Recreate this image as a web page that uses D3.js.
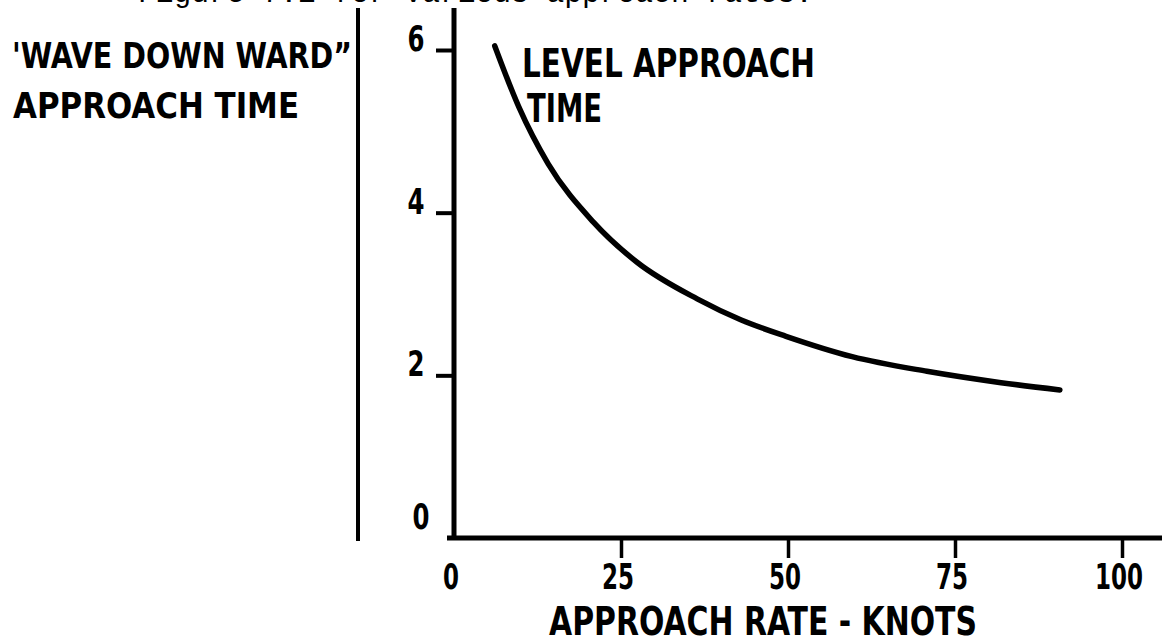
<!DOCTYPE html>
<html>
<head>
<meta charset="utf-8">
<script src="https://cdn.jsdelivr.net/npm/d3@7"></script>
<style>
  body { margin: 0; background: #fff; }
  svg { display: block; background: #fff; }
  text { font-family: "DejaVu Sans Condensed", "DejaVu Sans", sans-serif; font-stretch: condensed; font-weight: bold; fill: #000; }
</style>
</head>
<body>
<svg id="chart" width="1162" height="643"></svg>
<script>
// ---- data ----
const knots     = [6.1, 9.7, 14.1, 20.8, 27.4, 36.4, 43.0, 49.7, 59.6, 70.8, 81.9, 90.7];
const levelTime = [6.05, 5.30, 4.60, 3.89, 3.39, 2.94, 2.68, 2.48, 2.23, 2.05, 1.91, 1.82];
const xTickValues = [0, 25, 50, 75, 100];
const yTickValues = [0, 2, 4, 6];
const xTitle = "APPROACH RATE - KNOTS";
const sideLabel = ["'WAVE DOWN WARD\u201D", "APPROACH TIME"];
const curveLabel = ["LEVEL APPROACH", "TIME"];
const pageCaption = "Figure 7.1 for various approach rates.";

const svg = d3.select("#chart");
const x = d3.scaleLinear().domain([0, 100]).range([454, 1122]);
const y = d3.scaleLinear().domain([0, 6]).range([538, 50]);

// cut-off caption from the page above
svg.append("text").attr("x", 138).attr("y", 2)
  .style("font-family", "'Liberation Mono', 'DejaVu Sans Mono', monospace")
  .style("font-stretch", "normal").style("font-weight", "normal")
  .attr("font-size", 29).attr("textLength", 675).attr("lengthAdjust", "spacingAndGlyphs")
  .text(pageCaption);

// separator line next to the side label
svg.append("line").attr("x1", 358).attr("x2", 358).attr("y1", 8).attr("y2", 541)
  .attr("stroke", "#000").attr("stroke-width", 4);

// side labels
svg.append("text").attr("x", 12).attr("y", 68).attr("font-size", 35)
  .attr("textLength", 340).attr("lengthAdjust", "spacingAndGlyphs").text(sideLabel[0]);
svg.append("text").attr("x", 13).attr("y", 118).attr("font-size", 35)
  .attr("textLength", 286).attr("lengthAdjust", "spacingAndGlyphs").text(sideLabel[1]);

// y axis
const yAxis = d3.axisLeft(y).tickValues(yTickValues.filter(d => d > 0)).tickSize(18).tickFormat("");
const gy = svg.append("g").attr("transform", `translate(${x(0)},0)`).call(yAxis);
gy.select(".domain").remove();
gy.selectAll(".tick line").attr("stroke", "#000").attr("stroke-width", 4);
svg.append("line").attr("x1", x(0)).attr("x2", x(0)).attr("y1", 8).attr("y2", y(0) + 2)
  .attr("stroke", "#000").attr("stroke-width", 5);
svg.append("g").selectAll("text").data(yTickValues).join("text")
  .attr("x", d => x(0) - (d === 0 ? 33 : 38)).attr("y", d => y(d) - (d === 0 ? 22 : 12)).attr("dy", "0.36em")
  .attr("text-anchor", "middle").attr("font-size", 36)
  .attr("textLength", 17).attr("lengthAdjust", "spacingAndGlyphs")
  .text(d => d);

// x axis
const xAxis = d3.axisBottom(x).tickValues(xTickValues.filter(d => d > 0)).tickSize(20).tickFormat("");
const gx = svg.append("g").attr("transform", `translate(0,${y(0)})`).call(xAxis);
gx.select(".domain").remove();
gx.selectAll(".tick line").attr("stroke", "#000").attr("stroke-width", 3.5);
svg.append("line").attr("x1", x(0) - 7).attr("x2", 1162).attr("y1", y(0)).attr("y2", y(0))
  .attr("stroke", "#000").attr("stroke-width", 5);
svg.append("g").selectAll("text").data(xTickValues).join("text")
  .attr("x", d => x(d) - 3).attr("y", y(0) + 38).attr("dy", "0.36em")
  .attr("text-anchor", "middle").attr("font-size", 35)
  .attr("textLength", d => String(d).length * 16).attr("lengthAdjust", "spacingAndGlyphs")
  .text(d => d);

// x title
svg.append("text").attr("x", 549).attr("y", 635).attr("font-size", 39)
  .attr("textLength", 428).attr("lengthAdjust", "spacingAndGlyphs").text(xTitle);

// curve
const line = d3.line().x((d, i) => x(knots[i])).y(d => y(d)).curve(d3.curveMonotoneX);
svg.append("path").datum(levelTime).attr("d", line)
  .attr("fill", "none").attr("stroke", "#000").attr("stroke-width", 5.5).attr("stroke-linecap", "round");

// curve label
svg.append("text").attr("x", 522).attr("y", 77).attr("font-size", 39)
  .attr("textLength", 293).attr("lengthAdjust", "spacingAndGlyphs").text(curveLabel[0]);
svg.append("text").attr("x", 527).attr("y", 122).attr("font-size", 39)
  .attr("textLength", 75).attr("lengthAdjust", "spacingAndGlyphs").text(curveLabel[1]);
</script>
</body>
</html>
